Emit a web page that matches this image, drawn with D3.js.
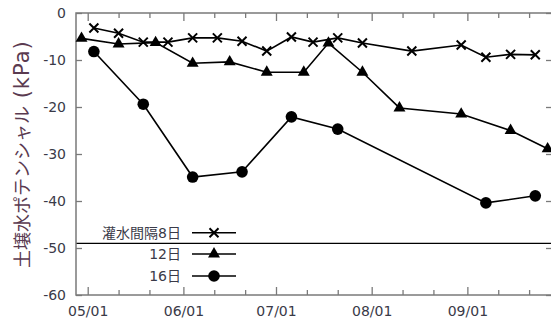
<!DOCTYPE html>
<html><head><meta charset="utf-8">
<script src="https://cdn.jsdelivr.net/npm/d3@7"></script>
<style>
html,body{margin:0;padding:0;background:#fff;}
svg{display:block;}
</style></head>
<body>
<svg id="chart" width="551" height="332"></svg>
<script>
// ---- data ----
const dates8 = ["2015-05-03","2015-05-11","2015-05-19","2015-05-27","2015-06-04","2015-06-12","2015-06-20","2015-06-28","2015-07-06","2015-07-13","2015-07-21","2015-07-29","2015-08-14","2015-08-30","2015-09-07","2015-09-15","2015-09-23"];
const values8 = [-3.2,-4.3,-6.2,-6.2,-5.3,-5.3,-6.0,-8.1,-5.1,-6.2,-5.3,-6.4,-8.1,-6.8,-9.4,-8.8,-8.9];
const dates12 = ["2015-04-29","2015-05-11","2015-05-23","2015-06-04","2015-06-16","2015-06-28","2015-07-10","2015-07-18","2015-07-29","2015-08-10","2015-08-30","2015-09-15","2015-09-27"];
const values12 = [-5.4,-6.6,-6.3,-10.7,-10.4,-12.6,-12.6,-6.4,-12.6,-20.2,-21.5,-25.0,-28.9];
const dates16 = ["2015-05-03","2015-05-19","2015-06-04","2015-06-20","2015-07-06","2015-07-21","2015-09-07","2015-09-23"];
const values16 = [-8.2,-19.4,-34.9,-33.8,-22.1,-24.7,-40.4,-38.9];
const seriesNames = ["灌水間隔8日","12日","16日"];
const yTicks = [0,-10,-20,-30,-40,-50,-60];
const monthTicks = ["2015-05-01","2015-06-01","2015-07-01","2015-08-01","2015-09-01"];
const refLine = -49;
const yTitleMain = "土壌水ポテンシャル";
const yTitleUnit = " (kPa)";

// ---- layout ----
const parse = d3.timeParse("%Y-%m-%d");
const L = 76, R = 552, T = 13, B = 295;
const x = d3.scaleTime().domain([new Date(2015,3,27,5), new Date(2015,8,28,10)]).range([L, R]);
const y = d3.scaleLinear().domain([0,-60]).range([T, B]);
const svg = d3.select("#chart");
const font = "'DejaVu Sans', Verdana, sans-serif";
const tickColor = "#3a3a48";
const frameColor = "#7a7a7a";

// reference line
svg.append("line").attr("x1", L).attr("x2", R).attr("y1", y(refLine)).attr("y2", y(refLine))
  .attr("stroke", "#000").attr("stroke-width", 1.3);

// axes
const majors = monthTicks.map(parse);
const minors = d3.timeDay.range(new Date(2015,3,27), new Date(2015,8,29)).filter(d => d.getDate() === 11 || d.getDate() === 21);

function styleAxis(g){
  g.select(".domain").remove();
  g.selectAll(".tick line").attr("stroke", frameColor).attr("stroke-width", 1.3);
  g.selectAll(".tick text").attr("fill", tickColor).style("font-family", font).style("font-size", "14px");
}

svg.append("g").attr("transform", `translate(0,${B})`)
  .call(d3.axisBottom(x).tickValues(majors).tickFormat(d3.timeFormat("%m/%d")).tickSize(-8).tickPadding(11))
  .call(styleAxis);
svg.append("g").attr("transform", `translate(0,${B})`)
  .call(d3.axisBottom(x).tickValues(minors).tickFormat("").tickSize(-5))
  .call(styleAxis);
svg.append("g").attr("transform", `translate(0,${T})`)
  .call(d3.axisTop(x).tickValues(majors).tickFormat("").tickSize(-8))
  .call(styleAxis);
svg.append("g").attr("transform", `translate(0,${T})`)
  .call(d3.axisTop(x).tickValues(minors).tickFormat("").tickSize(-5))
  .call(styleAxis);
svg.append("g").attr("transform", `translate(${L},0)`)
  .call(d3.axisLeft(y).tickValues(yTicks).tickFormat(d => String(d)).tickSize(-6).tickPadding(10))
  .call(styleAxis);
svg.append("g").attr("transform", `translate(${R},0)`)
  .call(d3.axisRight(y).tickValues(yTicks).tickFormat("").tickSize(-6))
  .call(styleAxis);

// frame
svg.append("rect").attr("x", L).attr("y", T).attr("width", R - L).attr("height", B - T)
  .attr("fill", "none").attr("stroke", frameColor).attr("stroke-width", 1.5);

// markers
const crossPath = "M-4.5,-4.5L4.5,4.5M-4.5,4.5L4.5,-4.5";
const triPath = d3.symbol().type(d3.symbolTriangle).size(62)();
function drawMarker(g, kind){
  if (kind === 0) g.append("path").attr("d", crossPath).attr("stroke", "#000").attr("stroke-width", 2).attr("fill", "none");
  else if (kind === 1) g.append("path").attr("d", triPath).attr("fill", "#000");
  else g.append("circle").attr("r", 5.8).attr("fill", "#000");
}

const series = [
  {dates: dates8, values: values8},
  {dates: dates12, values: values12},
  {dates: dates16, values: values16}
];
const line = d3.line().x(d => x(d[0])).y(d => y(d[1]));
series.forEach((s, i) => {
  const pts = s.dates.map((d, j) => [parse(d), s.values[j]]);
  svg.append("path").datum(pts).attr("d", line).attr("fill", "none").attr("stroke", "#000").attr("stroke-width", 1.6);
  pts.forEach(p => {
    const g = svg.append("g").attr("transform", `translate(${x(p[0])},${y(p[1])})`);
    drawMarker(g, i);
  });
});

// legend
const legY = [232.7, 254, 276];
seriesNames.forEach((name, i) => {
  svg.append("text").attr("x", 181).attr("y", legY[i]).attr("dy", "0.36em")
    .attr("text-anchor", "end").attr("fill", tickColor)
    .style("font-family", "'DejaVu Sans', 'Noto Sans CJK JP', sans-serif").style("font-size", "14px").text(name);
  svg.append("line").attr("x1", 192).attr("x2", 236).attr("y1", legY[i]).attr("y2", legY[i])
    .attr("stroke", "#000").attr("stroke-width", 1.6);
  const g = svg.append("g").attr("transform", `translate(214,${legY[i]})`);
  drawMarker(g, i);
});

// y title (reads bottom to top, starts at y=268)
const title = svg.append("text").attr("transform", "translate(23,268) rotate(-90)")
  .attr("text-anchor", "start").attr("dy", "0.36em")
  .attr("fill", "#5a3a50");
title.append("tspan")
  .style("font-family", "'Noto Sans CJK JP', sans-serif").style("font-size", "18px")
  .text(yTitleMain);
title.append("tspan")
  .style("font-family", "'DejaVu Sans', sans-serif").style("font-size", "21px").style("letter-spacing", "1px")
  .text(yTitleUnit);
</script>
</body></html>
